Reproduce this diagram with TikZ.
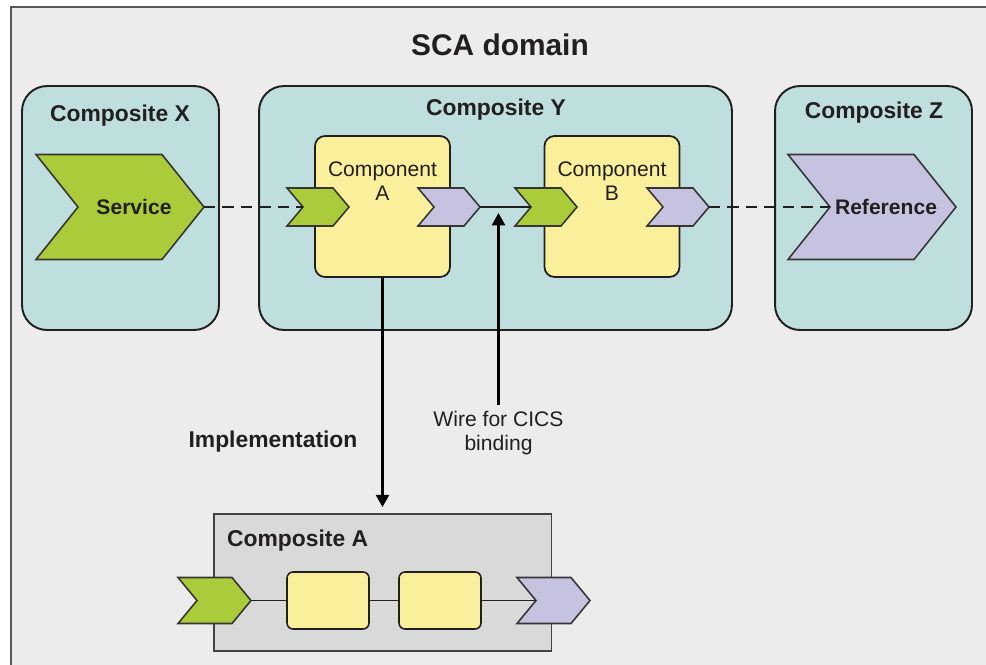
\documentclass[tikz,border=0pt]{standalone}
\usepackage{fontspec}
\setmainfont{Liberation Sans}
\usepackage{xcolor}
\usepackage{tikz}
\usetikzlibrary{arrows.meta, positioning}

\definecolor{domaingray}{HTML}{ECECEC}
\definecolor{compteal}{HTML}{BEDFDD}
\definecolor{servgreen}{HTML}{AACB3A}
\definecolor{refpurple}{HTML}{C6C3E0}
\definecolor{partyellow}{HTML}{FAF09B}
\definecolor{implgray}{HTML}{D9D9D9}
\definecolor{inkdark}{HTML}{231F20}

% chevron: name, left x, mid y, width, height, depth, colour, text
\newcommand{\chev}[8]{%
  \filldraw[chevron, fill=#7] (#2,#3-#5/2) -- (#2+#4-#6,#3-#5/2) -- (#2+#4,#3)
    -- (#2+#4-#6,#3+#5/2) -- (#2,#3+#5/2) -- (#2+#6,#3) -- cycle;
  \coordinate (#1-in) at (#2+#6,#3);
  \coordinate (#1-out) at (#2+#4,#3);
  \node[chevtext] (#1) at (#2+#4/2+#6/3,#3) {#8};
}

\begin{document}
\begin{tikzpicture}[x=0.02cm, y=-0.02cm,
    >={Triangle[width=7.5pt, length=7pt]},
    composite/.style={draw=inkdark, line width=1.1pt, fill=compteal, rounded corners=0.5cm,
      inner sep=0pt, minimum width=3.94cm, minimum height=4.88cm},
    compbox/.style={draw=inkdark, line width=1pt, fill=partyellow, rounded corners=0.2cm,
      inner sep=0pt, minimum width=2.7cm, minimum height=2.82cm},
    partbox/.style={draw=inkdark, line width=0.9pt, fill=partyellow, rounded corners=0.12cm,
      inner sep=0pt, minimum width=1.64cm, minimum height=1.14cm},
    chevron/.style={draw=inkdark!90, line width=0.9pt},
    chevtext/.style={inner sep=0pt, text=inkdark, font=\fontsize{12}{14}\selectfont\bfseries},
    boxtitle/.style={text=inkdark, font=\fontsize{13}{15}\selectfont\bfseries},
    plaintext/.style={text=inkdark, align=center, font=\fontsize{12}{13.6}\selectfont},
    wire/.style={draw=inkdark, line width=0.9pt},
    linkarrow/.style={draw=black, line width=1.2pt, ->}]

    % frame
    \useasboundingbox (0,0) rectangle (986,664);
    \clip (0,0) rectangle (986,664);
    \fill[white] (0,0) rectangle (986,664);
    \filldraw[fill=domaingray, draw=gray!70!black, line width=0.8pt] (11,7) rectangle (1000,680);
    \node[text=inkdark, font=\fontsize{17}{20}\selectfont\bfseries] (title) at (500,45) {SCA domain};

    % composites
    \node[composite] (csX) at (120.5,208) {};
    \node[composite, minimum width=9.46cm] (csY) at (495.5,208) {};
    \node[composite] (csZ) at (873.5,208) {};
    \node[boxtitle] (csXlbl) at (120,116) {Composite X};
    \node[boxtitle] (csYlbl) at (496,110) {Composite Y};
    \node[boxtitle] (csZlbl) at (874,113) {Composite Z};

    % components
    \node[compbox] (compA) at (382.5,206.5) {};
    \node[compbox] (compB) at (612,206.5) {};
    \node[plaintext] (compAlbl) at (382.5,181) {Component\\A};
    \node[plaintext] (compBlbl) at (612,181) {Component\\B};

    % services and references
    \chev{svc}{36}{207}{168}{105}{42}{servgreen}{Service}
    \chev{ref}{788}{207}{168}{105}{42}{refpurple}{Reference}
    \chev{ain}{287}{207}{62}{38}{16}{servgreen}{}
    \chev{aout}{418}{207}{62}{38}{16}{refpurple}{}
    \chev{bin}{515}{207}{62}{38}{16}{servgreen}{}
    \chev{bout}{647}{207}{62}{38}{16}{refpurple}{}

    % wires
    \draw[wire, dash pattern=on 6.5pt off 4pt] (svc-out) -- (ain-in);
    \draw[wire] (aout-out) -- (bin-in);
    \draw[wire, dash pattern=on 6.5pt off 4pt] (bout-out) -- (ref-in);

    % composite A
    \node[draw=inkdark!85, line width=1.1pt, fill=implgray, inner sep=0pt,
      minimum width=6.76cm, minimum height=2.74cm] (csA) at (382.5,582.5) {};
    \node[boxtitle, anchor=west] (csAlbl) at (221,541) {Composite A};
    \node[partbox] (partA1) at (328,600.5) {};
    \node[partbox] (partA2) at (440,600.5) {};
    \chev{ina}{178}{600.5}{73}{46}{19}{servgreen}{}
    \chev{outa}{517}{600.5}{73}{46}{19}{refpurple}{}
    \draw[wire, line width=0.8pt] (ina-out) -- (partA1) -- (partA2) -- (outa-in);

    % arrows and labels
    \coordinate (wirept) at (498.5,213);
    \node[plaintext] (wirelbl) at (498.5,433) {Wire for CICS\\binding};
    \draw[linkarrow] (wirelbl) -- (wirept);
    \node[boxtitle] (impllbl) at (273,442) {Implementation};
    \draw[linkarrow, shorten >=0.12cm] (compA) -- (csA);
\end{tikzpicture}
\end{document}
